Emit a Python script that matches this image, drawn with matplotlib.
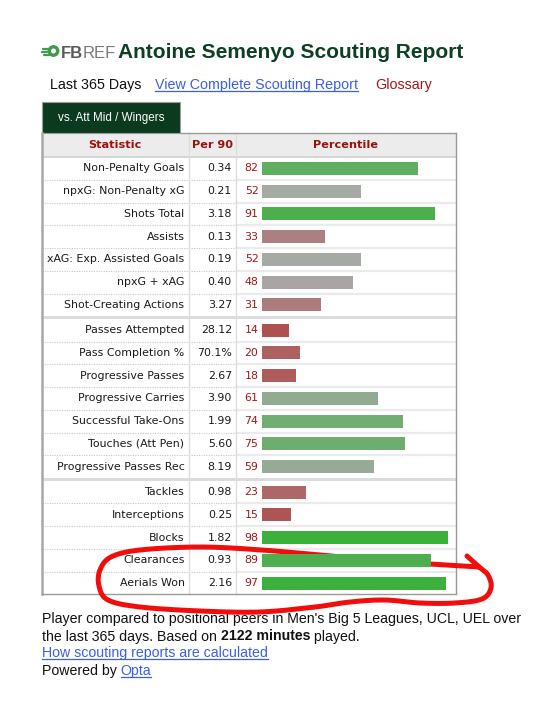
import numpy as np
import matplotlib
matplotlib.use("Agg")
import matplotlib.pyplot as plt
from matplotlib.colors import LinearSegmentedColormap
from matplotlib.patches import Rectangle, Circle

# ---------------- data ----------------
title = "Antoine Semenyo Scouting Report"
tab_label = "vs. Att Mid / Wingers"
headers = ["Statistic", "Per 90", "Percentile"]

group1_stats = ["Non-Penalty Goals", "npxG: Non-Penalty xG", "Shots Total", "Assists",
                "xAG: Exp. Assisted Goals", "npxG + xAG", "Shot-Creating Actions"]
group1_per90 = ["0.34", "0.21", "3.18", "0.13", "0.19", "0.40", "3.27"]
group1_pct = [82, 52, 91, 33, 52, 48, 31]

group2_stats = ["Passes Attempted", "Pass Completion %", "Progressive Passes",
                "Progressive Carries", "Successful Take-Ons", "Touches (Att Pen)",
                "Progressive Passes Rec"]
group2_per90 = ["28.12", "70.1%", "2.67", "3.90", "1.99", "5.60", "8.19"]
group2_pct = [14, 20, 18, 61, 74, 75, 59]

group3_stats = ["Tackles", "Interceptions", "Blocks", "Clearances", "Aerials Won"]
group3_per90 = ["0.98", "0.25", "1.82", "0.93", "2.16"]
group3_pct = [23, 15, 98, 89, 97]

minutes_played = "2122"

groups = [(group1_stats, group1_per90, group1_pct),
          (group2_stats, group2_per90, group2_pct),
          (group3_stats, group3_per90, group3_pct)]

# ---------------- layout / style ----------------
W, H = 540, 706
TL, TR = 42, 455.5
C1, C2 = 188.5, 236
HEAD_TOP, HEAD_BOT = 133, 157
ROW_H = 22.75
GAP = 2.6
BAR_X0, BAR_X1 = 262, 452
BAR_H = 13

DARK_GREEN = "#0b3a1f"
TITLE_GREEN = "#0d3f23"
DARK_RED = "#a0161a"
LINK_BLUE = "#3b5de7"
TABLE_FONT = "DejaVu Sans"
PAGE_FONT = "Liberation Sans"
TFS = 7.9

cmap = LinearSegmentedColormap.from_list(
    "pct", [(0.0, (176/255, 48/255, 48/255)),
            (0.5, (170/255, 170/255, 170/255)),
            (1.0, (54/255, 176/255, 54/255))])

fig = plt.figure(figsize=(W/100, H/100), dpi=100)
ax = fig.add_axes([0, 0, 1, 1])
ax.set_xlim(0, W)
ax.set_ylim(H, 0)
ax.axis("off")

# ---------- logo + title ----------
ax.add_patch(Circle((53.5, 51), 5.2, color="#3f9a4a", zorder=3))
ax.add_patch(Circle((53.5, 51), 1.8, color="white", zorder=4))
for dy, x0 in [(-2.5, 43), (0.5, 41.5), (3.5, 43.5)]:
    ax.plot([x0, x0 + 5], [51 + dy, 51 + dy], color="#3f9a4a", lw=1.6,
            solid_capstyle="round", zorder=3)
t_fb = ax.text(61, 57.5, "FB", fontsize=12, fontweight="bold", color="#5a5a5a",
               family=PAGE_FONT, va="baseline", ha="left")
fig.canvas.draw()
r = fig.canvas.get_renderer()
bb = t_fb.get_window_extent(r)
ax.text(bb.x1, 57.5, "REF", fontsize=12, color="#7a7a7a", family=PAGE_FONT,
        va="baseline", ha="left")
ax.text(118, 58, title, fontsize=15.05, fontweight="bold", color=TITLE_GREEN,
        family=PAGE_FONT, va="baseline", ha="left")

# ---------- sub links ----------
ax.text(50, 88.5, "Last 365 Days", fontsize=10.3, color="#111111",
        family=PAGE_FONT, va="baseline")
lk = ax.text(155, 88.5, "View Complete Scouting Report", fontsize=10.3,
             color=LINK_BLUE, family=PAGE_FONT, va="baseline")
fig.canvas.draw()
bb = lk.get_window_extent(r)
ax.plot([bb.x0, bb.x1], [90.5, 90.5], color=LINK_BLUE, lw=0.9)
ax.text(375, 89, "Glossary", fontsize=10.3, color=DARK_RED,
        family=PAGE_FONT, va="baseline")

# ---------- tab ----------
ax.add_patch(Rectangle((42, 101.5), 137.5, 31.5, facecolor=DARK_GREEN,
                       edgecolor="#9a9a9a", lw=0.8, zorder=2))
ax.text(111, 117.5, tab_label, fontsize=8.4, color="white", family=PAGE_FONT,
        ha="center", va="center", zorder=3)

# ---------- table header ----------
ax.add_patch(Rectangle((TL, HEAD_TOP), TR - TL, HEAD_BOT - HEAD_TOP,
                       facecolor="#ececec", edgecolor="none", zorder=1))
for xc, lab in zip([(TL + C1) / 2, (C1 + C2) / 2, (C2 + TR) / 2], headers):
    ax.text(xc, 145.5, lab, fontsize=8.1, fontweight="bold", color="#9b1010",
            family=TABLE_FONT, ha="center", va="center")
ax.plot([TL, TR], [HEAD_BOT, HEAD_BOT], color="#cfcfcf", lw=1.2, zorder=2)

# ---------- rows ----------
centers, pcts = [], []
top = HEAD_BOT
for gi, (stats, per90, pct) in enumerate(groups):
    for i, (s, p, q) in enumerate(zip(stats, per90, pct)):
        yc = top + ROW_H / 2 + i * ROW_H
        centers.append(yc)
        pcts.append(q)
        ax.text(184.5, yc, s, fontsize=TFS, color="#1a1a1a", family=TABLE_FONT,
                ha="right", va="center")
        ax.text(232, yc, p, fontsize=TFS, color="#1a1a1a", family=TABLE_FONT,
                ha="right", va="center")
        ax.text(258.5, yc, str(q), fontsize=TFS, color=DARK_RED, family=TABLE_FONT,
                ha="right", va="center")
        if i < len(stats) - 1:
            yl = top + (i + 1) * ROW_H
            ax.plot([TL, C2], [yl, yl], color="#c8c8c8", lw=0.8, ls=(0, (1, 1.2)))
            ax.plot([C2, TR], [yl, yl], color="#ebebeb", lw=1.6)
    top = top + len(stats) * ROW_H
    if gi < len(groups) - 1:
        ax.add_patch(Rectangle((TL, top - 0.5), TR - TL, GAP + 0.5,
                               facecolor="#dcdcdc", edgecolor="none", zorder=2))
        top += GAP
table_bottom = top

# column lines & border
ax.plot([C1, C1], [HEAD_TOP, table_bottom], color="#dddddd", lw=1.0)
ax.plot([C2, C2], [HEAD_TOP, table_bottom], color="#dddddd", lw=1.0)
ax.plot([TL, TL], [HEAD_TOP, table_bottom], color="#a8a8a8", lw=1.8, zorder=3)
ax.plot([TR, TR], [HEAD_TOP, table_bottom], color="#9a9a9a", lw=1.0, zorder=3)
ax.plot([TL, TR], [table_bottom, table_bottom], color="#9a9a9a", lw=1.0, zorder=3)
ax.plot([179.5, TR], [HEAD_TOP, HEAD_TOP], color="#9a9a9a", lw=1.0, zorder=3)

# ---------- bars ----------
bax = fig.add_axes([BAR_X0 / W, 0, (BAR_X1 - BAR_X0) / W, 1])
bax.set_xlim(0, 100)
bax.set_ylim(H, 0)
bax.axis("off")
bax.patch.set_alpha(0)
bax.barh(centers, pcts, height=BAR_H, left=0,
         color=[cmap(v / 100) for v in pcts], edgecolor="none")

# ---------- footer ----------
def chain(x, y, parts, **kw):
    objs = []
    for txt, weight in parts:
        t = ax.text(x, y, txt, fontweight=weight, va="baseline", ha="left", **kw)
        fig.canvas.draw()
        x = t.get_window_extent(r).x1
        objs.append(t)
    return objs

FFS = 10.2
fkw = dict(fontsize=FFS, family=PAGE_FONT, color="#111111")
ax.text(42, 623.3, "Player compared to positional peers in Men's Big 5 Leagues, UCL, UEL over",
        va="baseline", **fkw)
chain(42, 640.5, [("the last 365 days. Based on ", "normal"),
                  (f"{minutes_played} minutes", "bold"),
                  (" played.", "normal")], **fkw)
hl = ax.text(42, 657, "How scouting reports are calculated", va="baseline",
             fontsize=FFS, family=PAGE_FONT, color=LINK_BLUE)
fig.canvas.draw()
bb = hl.get_window_extent(r)
ax.plot([bb.x0, bb.x1], [659, 659], color=LINK_BLUE, lw=0.9)
objs = chain(42, 675, [("Powered by ", "normal")], **fkw)
op = ax.text(objs[0].get_window_extent(r).x1, 675, "Opta", va="baseline",
             fontsize=FFS, family=PAGE_FONT, color=LINK_BLUE)
fig.canvas.draw()
bb = op.get_window_extent(r)
ax.plot([bb.x0, bb.x1], [677, 677], color=LINK_BLUE, lw=0.9)

# ---------- hand-drawn red loop ----------
way = np.array([
    (467, 556), (478, 566), (488, 575), (491, 588), (482, 599), (455, 603),
    (420, 603), (385, 600), (350, 602), (315, 607), (260, 612), (200, 611),
    (140, 607), (108, 600), (99, 586), (100, 570), (111, 557), (140, 550),
    (200, 547), (262, 550), (330, 556), (400, 562), (479, 567)], dtype=float)

def catmull(pts, n=16):
    p = np.vstack([pts[0], pts, pts[-1]])
    out = []
    for i in range(1, len(p) - 2):
        p0, p1, p2, p3 = p[i - 1], p[i], p[i + 1], p[i + 2]
        for t in np.linspace(0, 1, n, endpoint=False):
            t2, t3 = t * t, t * t * t
            out.append(0.5 * ((2 * p1) + (-p0 + p2) * t +
                              (2 * p0 - 5 * p1 + 4 * p2 - p3) * t2 +
                              (-p0 + 3 * p1 - 3 * p2 + p3) * t3))
    out.append(pts[-1])
    return np.array(out)

curve = catmull(way)
ax.plot(curve[:, 0], curve[:, 1], color="#f20d0d", lw=3.6,
        solid_capstyle="round", solid_joinstyle="round", zorder=10)

fig.savefig("out.png", dpi=100)
